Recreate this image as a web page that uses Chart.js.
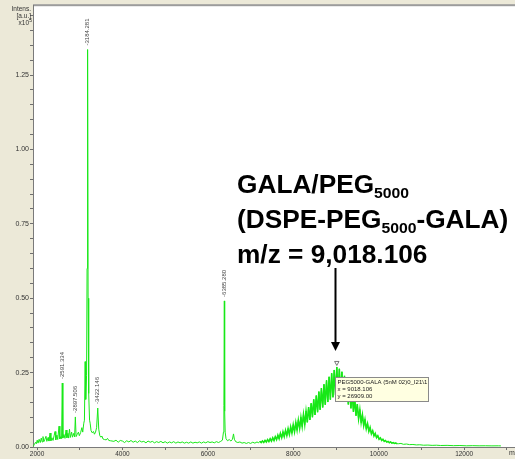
<!DOCTYPE html>
<html>
<head>
<meta charset="utf-8">
<script src="https://cdn.jsdelivr.net/npm/chart.js@4/dist/chart.umd.min.js"></script>
<style>
  html, body { margin: 0; padding: 0; background: #ECE9D8; }
  #wrap { width: 515px; height: 459px; }
  canvas { display: block; }
</style>
</head>
<body>
<div id="wrap"><canvas id="spectrum" width="515" height="459"></canvas></div>
<script>
// MALDI-TOF spectrum of the GALA/PEG5000 conjugate: [m/z, intensity (a.u.)]
const lowMassRegion = [
  [1910,200],[1940,900],[1965,1600],[1985,1100],[2005,2300],[2025,1300],[2050,2600],[2075,1500],
  [2100,3000],[2120,1700],[2140,3500],[2160,1800],[2185,2600],[2210,3600],[2230,1900],[2260,3200],
  [2280,2000],[2305,4700],[2325,2100],[2350,3100],[2375,2200],[2400,3800],[2422,5200],[2440,2400],
  [2465,4000],[2485,2500],[2516,7000],[2535,2700],[2560,3500],[2575,2800],[2591.334,21500],[2605,3000],
  [2630,4200],[2655,2900],[2680,5700],[2700,3100],[2725,4600],[2740,3000],[2760,6000],[2780,3200],
  [2810,5000],[2830,3300],[2860,4600],[2880,3400],[2897.506,10100],[2915,3500],[2940,4200],[2970,5000],
  [2990,3800],[3020,4800],[3050,6500],[3070,5000],[3095,8000],[3110,9000],[3127,28700],[3140,16000],
  [3160,24000],[3172,60000],[3184.281,133600],[3196,50000],[3210,18000],[3230,9000],[3244,8000],[3265,5500],
  [3290,4800],[3322,5200],[3345,4300],[3370,5000],[3395,6500],[3422.146,13100],[3445,6000],[3470,3800],
  [3495,3300],[3518,3700],[3545,2700],[3580,2500],[3620,2400],[3650,2900],[3680,2200],[3720,2100]
];
const midMassRegion = [
  [3800,1900],[3850,2300],[3900,1600],[3950,2200],[4000,2000],[4050,1500],[4100,2100],[4150,1700],
  [4200,2200],[4250,1600],[4300,2000],[4350,1500],[4400,2100],[4450,1700],[4500,1900],[4550,1400],
  [4600,2000],[4650,1600],[4700,1900],[4750,1400],[4800,1800],[4850,1500],[4900,1900],[4950,1400],
  [5000,1800],[5050,1300],[5100,1700],[5150,1400],[5200,1800],[5250,1300],[5300,1700],[5350,1400],
  [5400,1700],[5450,1300],[5500,1600],[5550,1300],[5600,1700],[5650,1300],[5700,1600],[5750,1400],
  [5800,1700],[5850,1300],[5900,1700],[5950,1400],[6000,1800],[6050,1500],[6100,1700],[6150,1400],
  [6200,1800],[6250,1500],[6300,1900],[6340,2300],[6365,5000],[6375,14000],[6385.280,49100],[6393,12000],
  [6405,5000],[6425,2800],[6460,2100],[6500,2500],[6540,2000],[6575,2600],[6600,4400],[6620,2600],
  [6650,1800],[6700,1500],[6750,1700],[6800,1300],[6850,1500],[6900,1200],[6950,1500],[7000,1200],
  [7050,1600],[7100,1300],[7150,1700],[7188,1400]
];
const conjugateRegion = [
  [7218,1900],[7248,1450],[7278,2050],[7308,1550],[7338,2250],[7368,1650],[7398,2500],[7428,1800],
  [7458,2800],[7488,1950],[7518,3100],[7548,2150],[7578,3500],[7608,2450],[7638,4000],[7668,2750],
  [7698,4600],[7728,3100],[7758,5100],[7788,3450],[7818,5600],[7848,3800],[7878,6200],[7908,4200],
  [7938,6800],[7968,4650],[7998,7500],[8028,5100],[8058,8300],[8088,5650],[8118,9100],[8148,6200],
  [8178,10000],[8208,6850],[8238,11000],[8268,7500],[8298,12100],[8328,8300],[8358,13400],[8388,9100],
  [8418,14700],[8448,10000],[8478,16000],[8508,10800],[8538,17300],[8568,11700],[8598,18600],[8628,12500],
  [8658,19800],[8688,13300],[8718,21100],[8748,14200],[8778,22400],[8808,15100],[8838,23600],[8868,15900],
  [8898,24800],[8928,16700],[8958,25900],[8988,17400],[9018.106,26909],[9048,17700],[9078,26300],[9108,17200],
  [9138,25300],[9168,16400],[9198,23900],[9228,15400],[9258,22200],[9288,14300],[9318,20300],[9348,13000],
  [9378,18300],[9408,11800],[9438,16300],[9468,10500],[9498,14400],[9528,9400],[9558,12600],[9588,8200],
  [9618,10900],[9648,7100],[9678,9300],[9708,6100],[9738,7900],[9768,5200],[9798,6600],[9828,4400],
  [9858,5500],[9888,3700],[9918,4600],[9948,3100],[9978,3800],[10008,2600],[10038,3100],[10068,2200],
  [10098,2600],[10128,1900],[10158,2200],[10188,1650],[10218,1900],[10248,1450],[10278,1700],[10308,1300],
  [10338,1500],[10368,1200],[10398,1350],[10428,1100]
];
const highMassTail = [
  [10460,1100],[10520,1200],[10580,900],[10650,1000],[10720,800],[10800,850],[10880,700],[10960,750],
  [11050,600],[11150,650],[11250,550],[11350,600],[11450,500],[11600,550],[11750,450],[11900,500],
  [12050,400],[12200,450],[12350,400],[12500,420],[12650,380],[12800,400],[12860,380]
];

// peaks annotated with their m/z
const labelledPeaks = [2591.334, 2897.506, 3184.281, 3422.146, 6385.280];
const conjugatePeakMz = 9018.106;

// axis ticks (x in m/z, y in units of 10^5)
const xMajorTicks = [2000, 4000, 6000, 8000, 10000, 12000];
const yMajorTicks = [0.00, 0.25, 0.50, 0.75, 1.00, 1.25];

const toPoints = arr => arr.map(([x, y]) => ({ x, y }));
const spectrum = toPoints([...lowMassRegion, ...midMassRegion, ...conjugateRegion, ...highMassTail]);
// the dense PEG ladder is drawn a little heavier so the envelope reads as a filled band
const ladder = toPoints(conjugateRegion);

function intensityAt(mz) {
  const p = spectrum.find(d => Math.abs(d.x - mz) < 1e-6);
  return p ? p.y : 0;
}

const SMALL_FONT = '"Liberation Sans", Arial, sans-serif';
const TRACE = 'rgb(24,232,24)';

const decorations = {
  id: 'decorations',
  beforeDraw(chart) {
    const { ctx, chartArea: a } = chart;
    ctx.save();
    ctx.fillStyle = '#ECE9D8';
    ctx.fillRect(0, 0, chart.width, chart.height);
    ctx.fillStyle = '#ffffff';
    ctx.fillRect(a.left, a.top, a.right - a.left, a.bottom - a.top);
    ctx.fillStyle = '#9c9c9c';
    ctx.fillRect(a.left, a.top - 1, chart.width - a.left, 2);
    ctx.restore();
  },
  afterDraw(chart) {
    const { ctx } = chart;
    const xs = chart.scales.x, ys = chart.scales.y;
    ctx.save();

    // y-axis caption
    ctx.fillStyle = '#333';
    ctx.font = `6.5px ${SMALL_FONT}`;
    ctx.textAlign = 'right';
    ctx.textBaseline = 'middle';
    ctx.fillText('Intens.', 31, 9);
    ctx.fillText('[a.u.]', 31, 16);
    ctx.fillText('x10', 29, 23);
    ctx.font = `5px ${SMALL_FONT}`;
    ctx.fillText('5', 32, 21);

    // x-axis caption at the far right
    ctx.font = `7px ${SMALL_FONT}`;
    ctx.textAlign = 'left';
    ctx.fillText('m/z', 509, 453);

    // vertical m/z labels above the peaks
    ctx.fillStyle = '#444';
    ctx.font = `6px ${SMALL_FONT}`;
    ctx.textAlign = 'left';
    ctx.textBaseline = 'middle';
    labelledPeaks.forEach(mz => {
      const px = xs.getPixelForValue(mz);
      const py = ys.getPixelForValue(intensityAt(mz));
      ctx.save();
      ctx.translate(px, py - 4);
      ctx.rotate(-Math.PI / 2);
      ctx.fillText('-' + mz.toFixed(3), 0, 0);
      ctx.restore();
    });

    // conjugate peak: marker, readout box, arrow and annotation
    const cx = xs.getPixelForValue(conjugatePeakMz);
    const cy = ys.getPixelForValue(intensityAt(conjugatePeakMz));

    ctx.strokeStyle = '#555';
    ctx.lineWidth = 0.8;
    ctx.beginPath();
    ctx.moveTo(cx - 2.2, cy - 5.5);
    ctx.lineTo(cx + 2.2, cy - 5.5);
    ctx.lineTo(cx, cy - 1.5);
    ctx.closePath();
    ctx.stroke();

    const bx = Math.round(cx) - 1.5, by = Math.round(cy) + 10.5;
    ctx.fillStyle = '#FFFFE1';
    ctx.fillRect(bx, by, 93, 24);
    ctx.strokeStyle = '#8a8a8a';
    ctx.lineWidth = 1;
    ctx.strokeRect(bx, by, 93, 24);
    ctx.fillStyle = '#222';
    ctx.font = `6px ${SMALL_FONT}`;
    ctx.textAlign = 'left';
    ctx.textBaseline = 'middle';
    ctx.fillText('PEG5000-GALA (5nM 02)0_I21\\1', bx + 2, by + 5);
    ctx.fillText('x = ' + conjugatePeakMz.toFixed(3), bx + 2, by + 12);
    ctx.fillText('y = ' + intensityAt(conjugatePeakMz).toFixed(2), bx + 2, by + 19);

    // arrow pointing at the conjugate peak
    const ax = Math.round(cx) - 1.5;
    const tip = cy - 16;
    ctx.strokeStyle = '#000';
    ctx.lineWidth = 2;
    ctx.beginPath();
    ctx.moveTo(ax, 268);
    ctx.lineTo(ax, tip - 8);
    ctx.stroke();
    ctx.fillStyle = '#000';
    ctx.beginPath();
    ctx.moveTo(ax - 4.5, tip - 9);
    ctx.lineTo(ax + 4.5, tip - 9);
    ctx.lineTo(ax, tip);
    ctx.closePath();
    ctx.fill();

    // annotation text with subscripts
    function line(x, y, parts) {
      ctx.save();
      ctx.translate(x, y);
      ctx.scale(1.05, 1);
      ctx.textAlign = 'left';
      ctx.textBaseline = 'alphabetic';
      let off = 0;
      for (const [t, size, dy] of parts) {
        ctx.font = `bold ${size}px "Liberation Sans", Arial, sans-serif`;
        ctx.fillText(t, off, dy);
        off += ctx.measureText(t).width;
      }
      ctx.restore();
    }
    ctx.fillStyle = '#000';
    line(237, 193, [['GALA/PEG', 25, 0], ['5000', 15, 5]]);
    line(237, 228, [['(DSPE-PEG', 25, 0], ['5000', 15, 5], ['-GALA)', 25, 0]]);
    line(237, 263, [['m/z = 9,018.106', 25, 0]]);

    ctx.restore();
  }
};

new Chart(document.getElementById('spectrum'), {
  type: 'scatter',
  data: {
    datasets: [{
      data: spectrum,
      showLine: true,
      borderColor: TRACE,
      borderWidth: 1,
      pointRadius: 0,
      tension: 0,
      fill: false
    }, {
      data: ladder,
      showLine: true,
      borderColor: TRACE,
      borderWidth: 1.5,
      pointRadius: 0,
      tension: 0,
      fill: false
    }]
  },
  options: {
    responsive: false,
    animation: false,
    devicePixelRatio: 1,
    layout: { padding: { top: 5, left: 0, right: 0, bottom: 0 } },
    plugins: { legend: { display: false }, tooltip: { enabled: false } },
    scales: {
      x: {
        type: 'linear',
        min: 1906,
        max: 13190,
        afterFit(scale) { scale.height = 12; },
        afterBuildTicks(scale) {
          const t = [];
          xMajorTicks.forEach(v => { t.push({ value: v }); if (v + 1000 <= scale.max) t.push({ value: v + 1000 }); });
          scale.ticks = t.sort((a, b) => a.value - b.value);
        },
        grid: { drawOnChartArea: false, drawTicks: true, tickLength: 3, color: '#6e6e6e' },
        border: { display: true, color: '#7a7a7a', width: 1 },
        ticks: {
          autoSkip: false, maxRotation: 0, padding: 0,
          color: '#333', font: { family: 'Liberation Sans', size: 6.5 },
          callback: v => xMajorTicks.includes(v) ? String(v) : ''
        }
      },
      y: {
        type: 'linear',
        min: 0,
        max: 148500,
        afterFit(scale) { scale.width = 33; },
        afterBuildTicks(scale) {
          const t = [];
          yMajorTicks.forEach(m => {
            for (let k = 0; k < 5; k++) {
              const v = Math.round((m + k * 0.05) * 1e5);
              if (v <= scale.max) t.push({ value: v });
            }
          });
          scale.ticks = t;
        },
        grid: { drawOnChartArea: false, drawTicks: true, tickLength: 3, color: '#6e6e6e' },
        border: { display: true, color: '#7a7a7a', width: 1 },
        ticks: {
          autoSkip: false, padding: 1,
          color: '#333', font: { family: 'Liberation Sans', size: 7 },
          callback: v => {
            const m = v / 1e5;
            return yMajorTicks.some(t => Math.abs(t - m) < 1e-9) ? m.toFixed(2) : '';
          }
        }
      }
    }
  },
  plugins: [decorations]
});
</script>
</body>
</html>
